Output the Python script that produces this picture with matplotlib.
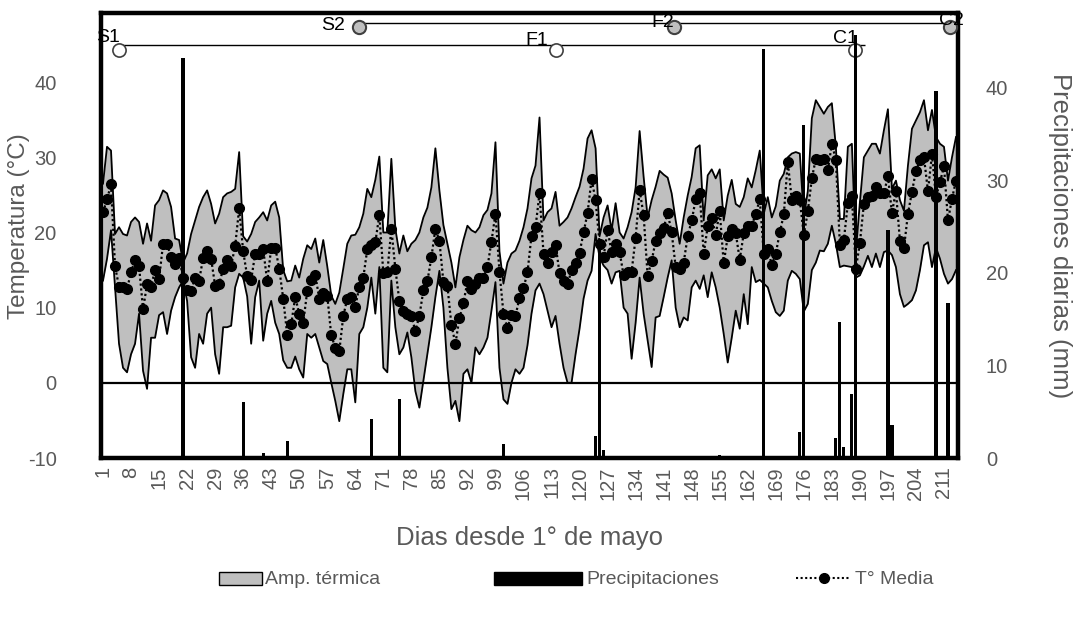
import numpy as np
import matplotlib
matplotlib.use("Agg")
import matplotlib.pyplot as plt
from matplotlib.patches import Rectangle
from matplotlib.lines import Line2D

plt.rcParams['font.family'] = ['Liberation Sans', 'DejaVu Sans']
plt.rcParams['axes.unicode_minus'] = False

# ---------------- data ----------------
days = list(range(1, 215))

t_max = [
    26.5, 31.4, 30.9, 19.8, 20.7, 19.8, 19.6, 21.4, 22.0, 21.4,
    18.5, 21.2, 18.9, 23.6, 24.3, 25.6, 25.2, 23.4, 19.2, 19.0,
    16.0, 17.2, 19.8, 21.6, 23.4, 24.7, 25.6, 23.8, 21.2, 22.5,
    24.7, 25.2, 25.4, 25.8, 30.7, 19.5, 18.8, 19.8, 21.4, 22.0,
    22.7, 21.6, 23.6, 24.1, 22.0, 15.0, 13.5, 13.6, 15.6, 14.0,
    16.5, 18.3, 17.8, 19.2, 16.0, 19.0, 15.5, 11.6, 10.5, 12.0,
    15.2, 18.5, 19.6, 19.7, 20.7, 22.5, 25.8, 24.7, 27.0, 30.1,
    20.0, 20.0, 29.8, 20.5, 17.2, 19.6, 17.5, 18.5, 19.0, 20.0,
    22.0, 23.3, 26.0, 31.2, 25.6, 21.0, 18.5, 16.0, 12.7, 16.7,
    19.0, 20.9, 20.3, 20.0, 20.7, 22.3, 23.0, 25.2, 32.0, 17.5,
    13.2, 16.0, 17.2, 17.6, 18.9, 20.7, 23.2, 27.2, 28.9, 35.3,
    21.6, 22.7, 23.2, 25.4, 20.9, 21.4, 22.0, 23.2, 24.7, 26.1,
    28.5, 32.5, 33.6, 31.2, 19.5, 22.0, 23.6, 20.3, 23.9, 20.0,
    19.2, 20.7, 22.7, 26.0, 33.5, 27.4, 22.0, 24.3, 26.1, 28.2,
    27.7, 27.3, 25.2, 21.6, 18.5, 22.0, 24.9, 27.4, 31.2, 31.6,
    21.6, 27.6, 28.4, 27.2, 28.4, 21.6, 24.9, 27.0, 23.8, 23.4,
    24.7, 27.2, 26.0, 28.3, 30.9, 22.5, 24.7, 22.0, 23.5, 26.9,
    27.8, 30.0, 30.5, 30.7, 30.5, 22.0, 25.5, 35.2, 37.6, 36.7,
    35.8, 36.7, 37.2, 31.4, 21.8, 21.8, 31.4, 31.8, 17.5, 24.0,
    30.0, 30.9, 31.8, 31.8, 30.5, 33.6, 36.4, 25.8, 26.9, 24.3,
    22.9, 28.9, 33.8, 34.9, 36.0, 37.6, 33.6, 36.3, 32.7, 31.8,
    31.4, 26.9, 30.0, 32.7,
]

t_min = [
    13.6, 16.5, 20.3, 12.7, 5.2, 2.0, 1.4, 3.8, 5.2, 9.2,
    1.6, -0.8, 6.0, 6.0, 9.0, 9.4, 6.5, 9.6, 11.4, 12.7,
    13.6, 10.9, 3.4, 2.0, 6.5, 5.2, 9.2, 10.0, 3.8, 1.2,
    7.4, 7.4, 7.6, 12.7, 14.5, 14.0, 11.5, 5.2, 11.4, 13.6,
    5.6, 9.2, 10.9, 8.0, 6.5, 3.0, 2.0, 2.0, 3.5, 1.8,
    0.7, 6.5, 6.0, 6.5, 4.7, 2.9, 2.5, 0.0, -2.4, -5.1,
    -1.5, 1.8, 1.8, -2.6, 6.5, 7.4, 10.0, 14.0, 9.2, 15.4,
    2.0, 1.4, 13.6, 7.4, 3.8, 4.7, 6.7, 3.4, -1.1, -3.3,
    0.3, 3.8, 7.4, 11.4, 14.9, 10.0, 2.0, -3.5, -2.4, -5.1,
    1.2, 1.8, 0.0, 4.7, 3.8, 4.7, 6.0, 9.6, 13.4, 2.0,
    -2.2, -2.8, 0.0, 1.8, 1.2, 2.0, 5.0, 9.2, 12.3, 13.2,
    11.8, 9.6, 7.4, 8.9, 5.2, 2.0, 0.0, 0.0, 3.8, 7.2,
    11.2, 13.6, 14.9, 19.8, 16.7, 15.6, 15.0, 13.2, 14.7, 14.9,
    10.0, 9.2, 3.2, 8.0, 14.0, 9.2, 5.6, 2.1, 8.7, 8.9,
    11.4, 14.0, 16.3, 10.0, 7.4, 8.7, 8.3, 12.7, 13.6, 12.5,
    14.3, 11.4, 14.7, 12.7, 10.0, 6.5, 2.7, 6.0, 9.6, 7.2,
    11.8, 7.8, 15.4, 13.4, 13.7, 13.2, 12.7, 10.9, 9.4, 8.9,
    9.6, 13.6, 14.9, 14.5, 13.8, 9.5, 10.5, 15.0, 16.0, 17.6,
    17.5, 18.5, 20.9, 18.5, 15.4, 15.6, 15.5, 15.4, 14.0, 14.3,
    15.5, 16.9, 15.4, 17.2, 15.4, 17.4, 17.6, 17.0, 15.4, 11.8,
    10.1, 10.5, 11.0, 12.3, 15.0, 18.3, 18.7, 15.4, 18.0, 16.5,
    14.5, 13.2, 13.8, 15.0,
]

t_mean = [
    22.7, 24.4, 26.4, 15.5, 12.8, 12.7, 12.5, 14.7, 16.4, 15.5,
    9.8, 13.1, 12.8, 15.0, 13.8, 18.5, 18.5, 16.7, 15.8, 16.6,
    14.0, 12.3, 12.2, 14.0, 13.6, 16.6, 17.6, 16.5, 12.9, 13.1,
    15.2, 16.4, 15.6, 18.2, 23.2, 17.5, 14.2, 13.7, 17.2, 17.2,
    17.8, 13.5, 17.9, 18.0, 15.2, 11.2, 6.4, 7.8, 11.4, 9.2,
    8.0, 12.2, 13.7, 14.4, 11.2, 11.9, 11.6, 6.3, 4.7, 4.2,
    8.9, 11.2, 11.4, 10.1, 12.8, 14.0, 17.8, 18.3, 18.7, 22.3,
    14.6, 14.7, 20.5, 15.2, 10.9, 9.6, 9.2, 8.9, 6.9, 8.9,
    12.3, 13.5, 16.7, 20.5, 18.9, 13.4, 12.9, 7.7, 5.2, 8.6,
    10.6, 13.5, 12.5, 13.1, 14.0, 14.0, 15.4, 18.8, 22.5, 14.8,
    9.2, 7.3, 9.0, 8.9, 11.3, 12.6, 14.7, 19.6, 20.7, 25.2,
    17.2, 16.0, 17.4, 18.4, 14.6, 13.6, 13.1, 15.0, 16.0, 17.3,
    20.0, 22.6, 27.1, 24.3, 18.5, 16.8, 20.3, 17.4, 18.5, 17.4,
    14.3, 14.7, 14.8, 19.3, 25.6, 22.3, 14.2, 16.2, 18.9, 19.9,
    20.6, 22.6, 20.0, 15.4, 15.2, 16.0, 19.5, 21.6, 24.4, 25.2,
    17.2, 20.8, 21.9, 19.7, 22.8, 15.9, 19.5, 20.4, 19.9, 16.4,
    19.9, 20.8, 20.9, 22.5, 24.4, 17.2, 17.8, 15.7, 17.2, 20.0,
    22.4, 29.4, 24.3, 24.9, 24.3, 19.7, 22.8, 27.2, 29.8, 29.7,
    29.8, 28.3, 31.8, 29.7, 18.4, 19.0, 23.9, 24.8, 15.2, 18.6,
    23.8, 24.7, 24.8, 26.0, 25.2, 25.2, 27.5, 22.6, 25.5, 18.9,
    17.9, 22.5, 25.4, 28.2, 29.6, 30.0, 25.5, 30.4, 24.7, 26.7,
    28.8, 21.6, 24.5, 26.9,
]

rain_days = [21, 36, 41, 47, 68, 75, 101, 124, 125, 126, 155, 166,
             175, 176, 184, 185, 186, 188, 189, 197, 198, 209, 212]
rain_mm = [43.2, 6.0, 0.5, 1.8, 4.2, 6.4, 1.5, 2.4, 23.2, 0.9, 0.3, 44.2,
           2.8, 36.0, 2.2, 14.7, 1.2, 6.9, 45.7, 24.6, 3.6, 39.7, 16.7]

tick_days = list(range(1, 215, 7))

stage_labels = ['S1', 'F1', 'C1', 'S2', 'F2', 'C2']
stage_days = [5, 114, 188.9, 65, 143.6, 212.5]

legend_labels = ['Amp. térmica', 'Precipitaciones', 'T° Media']

# ---------------- figure ----------------
W, H = 1075, 619
fig = plt.figure(figsize=(W / 100, H / 100), dpi=100)
ax = fig.add_axes([101 / W, 1 - 458 / H, 857 / W, 445 / H])
gray_txt = '#595959'
fill_col = '#bfbfbf'

ax.fill_between(days, t_min, t_max, color=fill_col, lw=0, zorder=2)
ax.plot(days, t_max, color='black', lw=1.3, zorder=3)
ax.plot(days, t_min, color='black', lw=1.3, zorder=3)
ax.axhline(0, color='black', lw=1.6, zorder=3)
ax.plot(days, t_mean, color='black', lw=1.6, ls=(0, (1, 1.2)),
        marker='o', ms=7, zorder=4)

ax.set_xlim(0.5, 214.5)
ax.set_ylim(-10, 49.2)
ax.set_yticks([-10, 0, 10, 20, 30, 40])
ax.set_xticks(tick_days)
ax.set_xticklabels([str(d) for d in tick_days], rotation=90)
ax.tick_params(axis='both', length=0, labelsize=14.5, colors=gray_txt)
ax.tick_params(axis='y', pad=32)
ax.tick_params(axis='x', pad=6)
for s in ax.spines.values():
    s.set_linewidth(3.2)
    s.set_color('black')
ax.set_ylabel('Temperatura (°C)', fontsize=17.5, color=gray_txt)
ax.yaxis.label.set_va('center')
ax.yaxis.set_label_coords((19 - 101) / 857, 0.52)
ax.set_xlabel('Dias desde 1° de mayo', fontsize=18.5, color=gray_txt)
ax.xaxis.label.set_va('center')
ax.xaxis.set_label_coords(0.5, -(538 - 458) / 445)

# stage markers and lines
ax.hlines(44.9, stage_days[0], 191.4, color='black', lw=1.0, zorder=5)
ax.hlines(47.9, stage_days[3], 214.5, color='black', lw=1.0, zorder=5)
ax.plot(stage_days[0:3], [44.3] * 3, ls='none', marker='o', ms=9.5,
        mfc='white', mec='#404040', mew=1.2, zorder=6, clip_on=False)
ax.plot(stage_days[3:6], [47.3] * 3, ls='none', marker='o', ms=9.5,
        mfc=fill_col, mec='#404040', mew=1.5, zorder=6, clip_on=False)
offsets = [(-8, 9), (-13.5, 7), (-7, 8), (-19, 1.5), (-8, 3.5), (1, 5)]
stage_y = [44.3] * 3 + [47.3] * 3
for lab, d, yv, off in zip(stage_labels, stage_days, stage_y, offsets):
    ax.annotate(lab, (d, yv), xytext=off, textcoords='offset points',
                ha='center', va='center', fontsize=14, color='black',
                zorder=7, annotation_clip=False)

# precipitation (secondary axis)
ax2 = ax.twinx()
ax2.bar(rain_days, rain_mm, width=0.8, color='black', zorder=3)
ax2.set_ylim(0, 48.1)
ax2.set_yticks([0, 10, 20, 30, 40])
ax2.tick_params(axis='y', length=0, labelsize=14.5, colors=gray_txt, pad=20)
for s in ax2.spines.values():
    s.set_visible(False)
ax2.set_ylabel('Precipitaciones diarias (mm)', fontsize=18.5, color=gray_txt,
               rotation=270)
ax2.yaxis.label.set_va('center')
ax2.yaxis.set_label_coords((1060 - 101) / 857, 0.5)

# legend (drawn manually in pixel space of an overlay axes)
lg = fig.add_axes([0, 0, 1, 1], facecolor='none')
lg.set_xlim(0, W)
lg.set_ylim(H, 0)
lg.axis('off')
ly = 578
base = ly + 5.5
lg.add_patch(Rectangle((219, ly - 6.5), 43, 13, facecolor=fill_col,
                       edgecolor='black', lw=1.0))
lg.text(265, base, legend_labels[0], fontsize=14, color=gray_txt,
        va='baseline', ha='left')
lg.add_patch(Rectangle((494, ly - 6.5), 88, 13, facecolor='black',
                       edgecolor='black', lw=1.0))
lg.text(586, base, legend_labels[1], fontsize=14, color=gray_txt,
        va='baseline', ha='left')
lg.add_line(Line2D([796, 851], [ly, ly], color='black', lw=1.5,
                   ls=(0, (1, 1.2))))
lg.add_line(Line2D([823.5], [ly], color='black', marker='o', ms=7))
lg.text(855, base, legend_labels[2], fontsize=14, color=gray_txt,
        va='baseline', ha='left')

fig.savefig('out.png', dpi=100)
